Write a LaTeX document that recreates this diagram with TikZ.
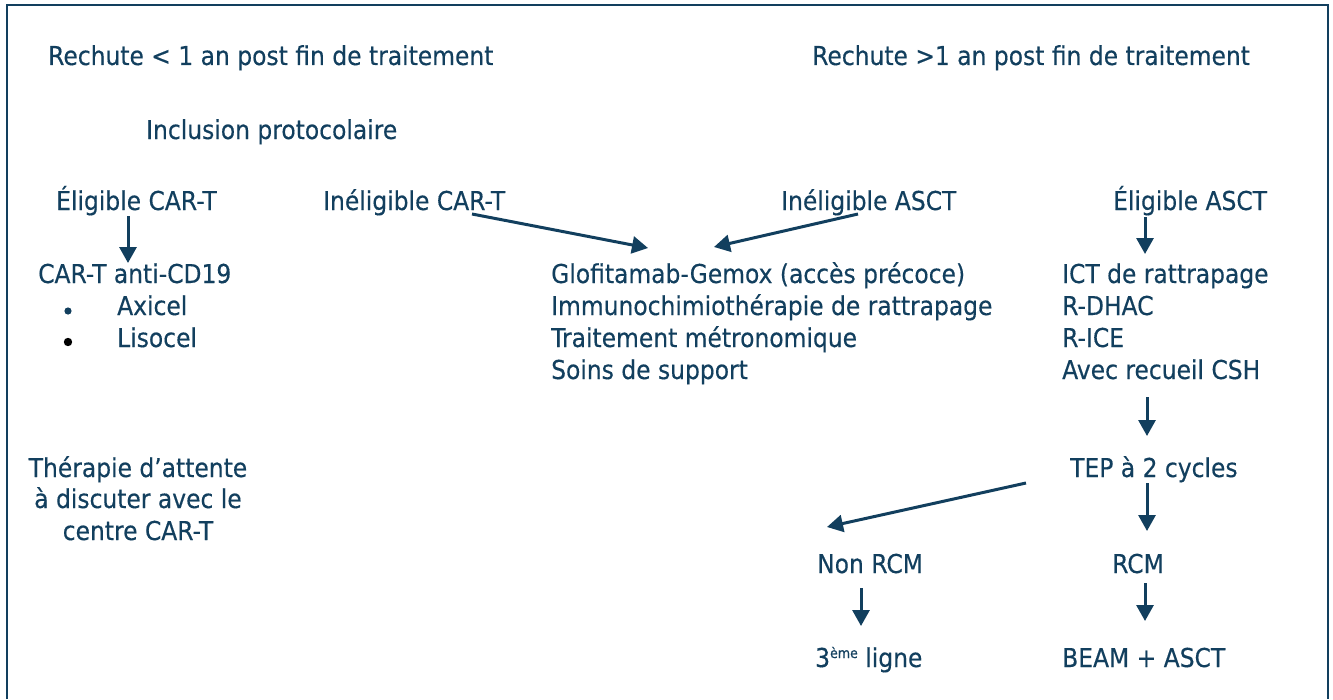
\documentclass[tikz,border=0pt]{standalone}
\usepackage{fontspec}
\setmainfont{DejaVu Sans}[FakeStretch=0.9, FakeBold=0.35]
\usetikzlibrary{arrows.meta}
\definecolor{navy}{RGB}{18,63,94}
\begin{document}
\begin{tikzpicture}[x=1bp,y=-1bp,
  txt/.style={inner sep=0pt, anchor=base west, text=navy,
    font=\fontsize{26bp}{32bp}\selectfont},
  ctxt/.style={txt, anchor=base},
  flow/.style={draw=navy, line width=3bp,
    -{Triangle[length=16bp,width=17bp]}},
]
\useasboundingbox (0,0) rectangle (1333,699);
% frame, open at the bottom
\draw[navy, line width=2.5bp] (7,699) -- (7,5) -- (1328,5) -- (1328,699);

% headings
\node[txt] (rlt) at (48,65) {Rechute < 1 an post fin de traitement};
\node[txt] (rgt) at (812,65) {Rechute >1 an post fin de traitement};
\node[txt] (incl) at (146,139) {Inclusion protocolaire};

% eligibility row
\node[txt] (eligcar) at (56,210) {Éligible CAR-T};
\node[txt] (ineligcar) at (323,210) {Inéligible CAR-T};
\node[txt] (ineligasct) at (781,210) {Inéligible ASCT};
\node[txt] (eligasct) at (1113,210) {Éligible ASCT};

% CAR-T branch
\node[txt] (cart) at (38,283) {CAR-T anti-CD19};
\node[txt] (axi) at (117,315) {Axicel};
\node[txt] (liso) at (117,347) {Lisocel};
\fill[navy] (68,311) circle (3.6bp);
\fill[black] (68,342) circle (4.2bp);
\node[ctxt] (att1) at (138,477) {Thérapie d’attente};
\node[ctxt] (att2) at (138,508) {à discuter avec le};
\node[ctxt] (att3) at (138,540) {centre CAR-T};

% non-eligible options
\node[txt] (glo) at (551,283) {Glofitamab-Gemox (accès précoce)};
\node[txt] (ict) at (551,315) {Immunochimiothérapie de rattrapage};
\node[txt] (metro) at (551,347) {Traitement métronomique};
\node[txt] (soins) at (551,379) {Soins de support};

% ASCT branch
\node[txt] (ictr) at (1062,283) {ICT de rattrapage};
\node[txt] (dhac) at (1062,315) {R-DHAC};
\node[txt] (ice) at (1062,347) {R-ICE};
\node[txt] (csh) at (1062,379) {Avec recueil CSH};
\node[txt] (tep) at (1070,477) {TEP à 2 cycles};
\node[txt] (nonrcm) at (817,573) {Non RCM};
\node[txt] (rcm) at (1112,573) {RCM};
\node[txt] (ligne) at (815,667) {3\raisebox{9bp}{\fontsize{14bp}{14bp}\selectfont ème} ligne};
\node[txt] (beam) at (1062,667) {BEAM + ASCT};

% connector ends
\coordinate (eligcar-o) at (128,216);
\coordinate (cart-i) at (128,263);
\coordinate (ineligcar-o) at (472,214);
\coordinate (glo-l) at (648,248);
\coordinate (ineligasct-o) at (858,214);
\coordinate (glo-r) at (714,247);
\coordinate (eligasct-o) at (1145,217);
\coordinate (ictr-i) at (1145,254);
\coordinate (csh-o) at (1147,397);
\coordinate (tep-i) at (1147,436);
\coordinate (tep-o) at (1147,483);
\coordinate (rcm-i) at (1147,531);
\coordinate (tep-w) at (1026,483);
\coordinate (nonrcm-i) at (827,527);
\coordinate (nonrcm-o) at (861,588);
\coordinate (ligne-i) at (861,626);
\coordinate (rcm-o) at (1145,583);
\coordinate (beam-i) at (1145,621);

\draw[flow] (eligcar-o) -- (cart-i);
\draw[flow] (ineligcar-o) -- (glo-l);
\draw[flow] (ineligasct-o) -- (glo-r);
\draw[flow] (eligasct-o) -- (ictr-i);
\draw[flow] (csh-o) -- (tep-i);
\draw[flow] (tep-o) -- (rcm-i);
\draw[flow] (tep-w) -- (nonrcm-i);
\draw[flow] (nonrcm-o) -- (ligne-i);
\draw[flow] (rcm-o) -- (beam-i);
\end{tikzpicture}
\end{document}
